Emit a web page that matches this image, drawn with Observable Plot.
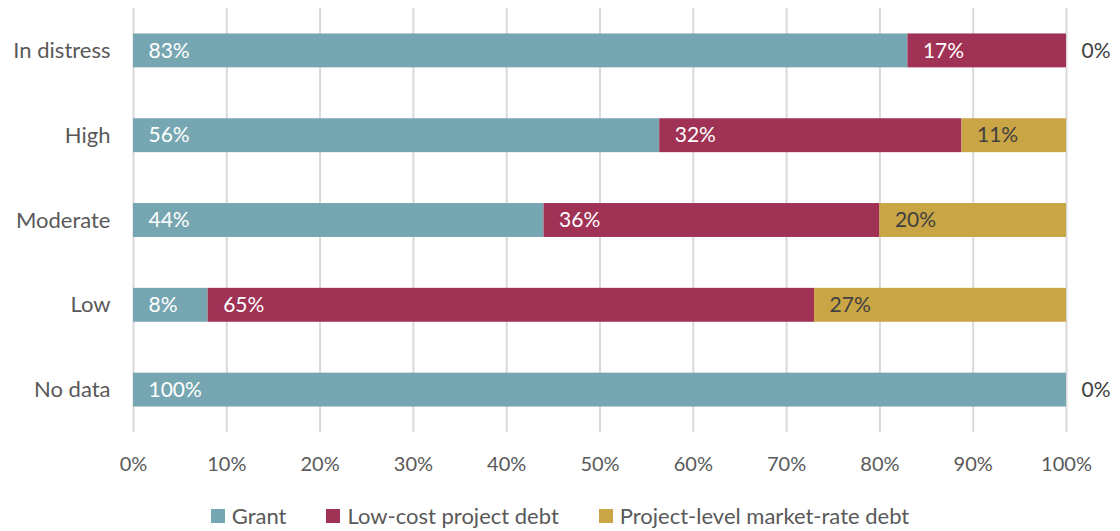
<!DOCTYPE html>
<html>
<head>
<meta charset="utf-8">
<script src="https://cdn.jsdelivr.net/npm/d3@7"></script>
<script src="https://cdn.jsdelivr.net/npm/@observablehq/plot@0.6"></script>
<style>
  body { margin: 0; background: #fff; font-family: Lato, "Open Sans", sans-serif; }
  #legend { display: flex; justify-content: center; gap: 40px; padding-top: 13px; font-size: 22px; color: #595959; line-height: 26px; }
  #legend .item { display: flex; align-items: center; gap: 7px; }
  #legend .sw { width: 14px; height: 14px; display: inline-block; }
</style>
</head>
<body>
<div id="chart"></div>
<div id="legend"></div>
<script>
const categories = ["In distress", "High", "Moderate", "Low", "No data"];
const seriesNames = ["Grant", "Low-cost project debt", "Project-level market-rate debt"];
const seriesColors = ["#76A6B1", "#A03255", "#C9A545"];
const labelColors = ["#ffffff", "#ffffff", "#404040"];
const grant      = [83, 56.4, 44, 8, 100];
const lowCost    = [17, 32.4, 36, 65, 0];
const marketRate = [0, 11.2, 20, 27, 0];
const xTicks = [0, 10, 20, 30, 40, 50, 60, 70, 80, 90, 100];

const seriesValues = [grant, lowCost, marketRate];
const data = [];
categories.forEach((c, i) => {
  seriesNames.forEach((s, j) => {
    data.push({cat: c, series: s, value: seriesValues[j][i], idx: j});
  });
});
const labelData = data.filter(d => d.value > 0 || d.idx === seriesNames.length - 1);

const chart = Plot.plot({
  width: 1120,
  height: 490,
  marginLeft: 133,
  marginRight: 54,
  marginTop: 8,
  marginBottom: 58,
  style: {fontFamily: "Lato, 'Open Sans', sans-serif", background: "#fff"},
  x: {domain: [0, 100], ticks: xTicks, tickFormat: d => d + "%", tickSize: 0, tickPadding: 24, label: null, grid: false},
  y: {domain: categories, paddingInner: 0.6, paddingOuter: 0.3, round: false, tickSize: 0, tickPadding: 23, label: null},
  color: {domain: seriesNames, range: seriesColors},
  marks: [
    Plot.ruleX(xTicks, {stroke: "#d9d9d9", strokeWidth: 2}),
    Plot.barX(data, Plot.stackX({x: "value", y: "cat", fill: "series", z: "series"})),
    Plot.text(labelData, Plot.stackX1({
      x: "value", y: "cat", z: "series",
      text: d => Math.round(d.value) + "%",
      fill: d => labelColors[d.idx],
      textAnchor: "start", dx: 15, fontSize: 21
    })),
    Plot.axisX({ticks: xTicks, tickFormat: d => d + "%", tickSize: 0, tickPadding: 24, fontSize: 20, color: "#595959", label: null}),
    Plot.axisY({tickSize: 0, tickPadding: 23, fontSize: 22, color: "#595959", label: null})
  ]
});
chart.querySelectorAll("[aria-label='x-axis tick label'] text, [aria-label='y-axis tick label'] text").forEach(t => t.setAttribute("fill", "#595959"));
document.getElementById("chart").appendChild(chart);

const legend = document.getElementById("legend");
seriesNames.forEach((s, j) => {
  const item = document.createElement("div");
  item.className = "item";
  const sw = document.createElement("span");
  sw.className = "sw";
  sw.style.background = seriesColors[j];
  const tx = document.createElement("span");
  tx.textContent = s;
  item.appendChild(sw);
  item.appendChild(tx);
  legend.appendChild(item);
});
</script>
</body>
</html>
